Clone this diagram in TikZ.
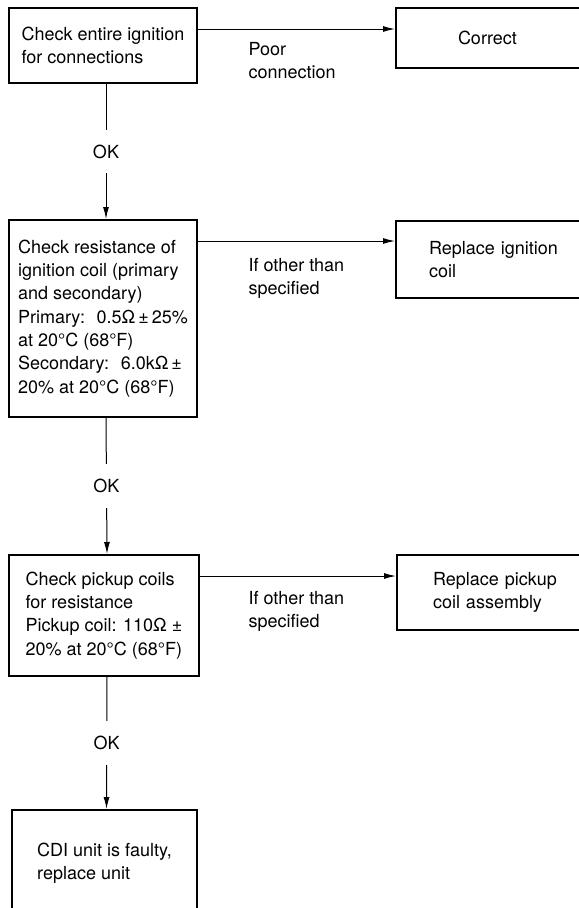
\documentclass[tikz,border=0pt]{standalone}
\usepackage{fontspec}
\setmainfont{TeX Gyre Heros}
\usetikzlibrary{arrows.meta}

\tikzset{every picture/.style={line width=0.75pt}}
\tikzset{
  txt/.style={font=\fontsize{13.5}{17.5}\selectfont},
  checkbox/.style={txt, draw, line width=1.5pt, align=left, inner sep=4.5pt},
  outcome/.style={txt, draw, line width=1.5pt, anchor=west, align=left, text width=250pt},
  flow/.style={-{Latex[length=9pt,width=4.5pt]}},
  note/.style={txt, anchor=north west, inner sep=0.75pt, align=left},
  ok/.style={txt, fill=white, inner xsep=2pt, inner ysep=11pt}
}

\begin{document}
\begin{tikzpicture}[x=0.75pt,y=0.75pt,yscale=-1,xscale=1]
\useasboundingbox (0,0) rectangle (579,908);
\clip (0,0) rectangle (579,908);

%Shape: Rectangle (left column)
\node (check) [checkbox, minimum width=141pt, minimum height=56.25pt] at (103,45.5)
  {Check entire ignition\\for connections};
\node (coil) [checkbox, minimum width=141pt, minimum height=147.75pt] at (103,318.5)
  {Check resistance of\\ignition coil (primary\\and secondary)\\Primary:~ 0.5Ω\,±\,25\%\\at 20°C (68°F)\\Secondary:~ 6.0kΩ\,±\\20\% at 20°C (68°F)};
\node (pickup) [checkbox, minimum width=142.5pt, minimum height=90.75pt] at (104,615.5)
  {Check pickup coils\\for resistance\\Pickup coil: 110Ω ±\\20\% at 20°C (68°F)};
\node (cdi) [checkbox, minimum width=138.75pt, minimum height=80.25pt] at (104.5,863.5)
  {CDI unit is faulty,\\replace unit};

%Shape: Rectangle (right column, runs off the page)
\node (correct) [outcome, inner xsep=46.5pt, minimum height=45pt] at (395,38) {Correct};
\node (newcoil) [outcome, inner xsep=24.75pt, minimum height=57.75pt] at (395,259.5)
  {Replace ignition\\coil};
\node (newpickup) [outcome, inner xsep=27pt, minimum height=56.25pt] at (396,592.5)
  {Replace pickup\\coil assembly};

%Straight Lines (yscale=-1 flips the shift, so + is down)
\draw [flow] ([yshift=16.5pt]check.north east) coordinate (p1) -- (p1 -| correct.west);
\draw [flow] ([yshift=16.5pt]coil.north east) coordinate (p2) -- (p2 -| newcoil.west);
\draw [flow] ([yshift=16.5pt]pickup.north east) coordinate (p3) -- (p3 -| newpickup.west);

\draw [flow] ([xshift=2.25pt]check.south) -- node [ok] (ok1) {OK} ([xshift=2.25pt]coil.north);
\draw [flow] ([xshift=2.25pt]coil.south) -- node [ok] (ok2) {OK} ([xshift=2.25pt]pickup.north);
\draw [flow] ([xshift=2.25pt]pickup.south) -- node [ok] (ok3) {OK} ([xshift=1.5pt]cdi.north);

% Text Node
\node (poor) [note] at (247,40.5) {Poor\\connection};
% Text Node
\node (other1) [note] at (247,256.5) {If other than\\specified};
% Text Node
\node (other2) [note] at (247,589.5) {If other than\\specified};

\end{tikzpicture}
\end{document}
